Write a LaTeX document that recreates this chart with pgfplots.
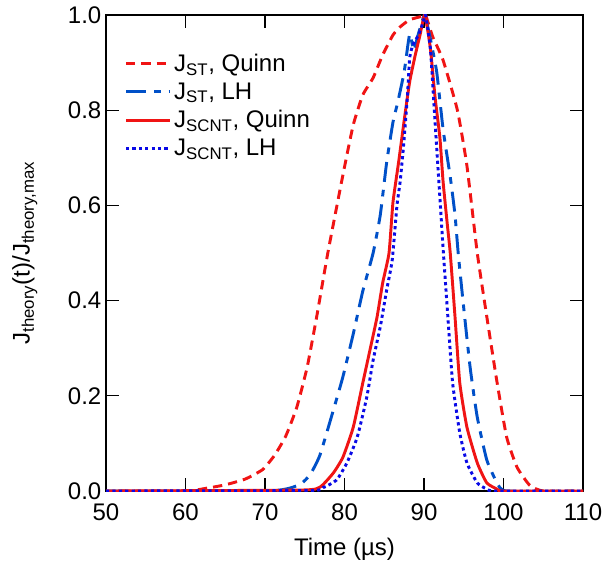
\documentclass[border=0pt]{standalone}
\usepackage{fontspec}
\setmainfont{Liberation Sans}
\usepackage{pgfplots}
\pgfplotsset{compat=1.18}
\definecolor{cred}{RGB}{240,20,20}
\definecolor{cblueA}{RGB}{0,80,200}
\definecolor{cblueB}{RGB}{10,10,230}
\newcommand{\bigf}{\fontsize{18}{21}\selectfont}
\begin{document}
\begin{tikzpicture}
\begin{axis}[
  scale only axis,
  width=357.75pt, height=357pt,
  xmin=50, xmax=110, ymin=0, ymax=1,
  xtick={50,60,...,110},
  ytick={0,0.2,0.4,0.6,0.8,1.0},
  /pgf/number format/assume math mode=true,
  yticklabel style={/pgf/number format/.cd, fixed, fixed zerofill, precision=1},
  xticklabel style={yshift=-6pt},
  tick label style={font=\bigf},
  tick align=inside,
  tick pos=both,
  major tick length=10pt,
  every tick/.style={black, line width=1pt},
  axis line style={line width=1.2pt},
  xlabel={Time (µs)},
  ylabel={J\textsubscript{theory}(t)/J\textsubscript{theory,max}},
  label style={font=\bigf},
  xlabel style={at={(axis description cs:0.5,-0.122)}, anchor=center},
  ylabel style={at={(axis description cs:-0.17,0.5)}, anchor=center},
  legend style={at={(axis description cs:0.03,0.93)}, anchor=north west,
    draw=none, fill=none, font=\bigf, row sep=3pt,
    /tikz/every even column/.append style={column sep=0pt}},
  legend cell align=left,
  legend image code/.code={\draw[#1] (0pt,0pt) -- (33pt,0pt);},
  every axis plot/.append style={line join=round},
]
\addplot[cred, line width=2.2pt, dash pattern=on 7pt off 4.5pt, smooth, tension=0.3] coordinates {
(50,0) (60,0) (62.7,0.006) (65,0.013) (67.5,0.025) (69.7,0.045) (71.2,0.075) (72.6,0.115) (74.0,0.176)
(75.3,0.26) (76.5,0.366) (77.9,0.5) (79.8,0.664) (81.1,0.769) (82.3,0.832)
(83.6,0.868) (84.8,0.916) (86.1,0.958) (87.0,0.975) (88.2,0.99) (89.9,0.998)
(90.2,1.0) (91.1,0.954) (92.4,0.905) (94.2,0.8) (95.4,0.683) (96.7,0.5)
(97.9,0.366) (99.2,0.227) (100.4,0.113) (101.7,0.05) (103.3,0.012) (105,0) (110,0)
};
\addlegendentry{J\textsubscript{ST}, Quinn}
\addplot[cblueA, line width=2.2pt, dash pattern=on 15pt off 6pt on 5pt off 6pt, smooth, tension=0.3] coordinates {
(50,0) (70,0) (73.1,0.006) (74.6,0.016) (75.7,0.035) (76.9,0.075) (78.6,0.17) (79.8,0.24)
(81.1,0.33) (82.3,0.42) (83.6,0.5) (84.5,0.58) (85.3,0.69) (86.1,0.775)
(86.7,0.817) (87.5,0.88) (88.2,0.96) (88.7,0.925) (89.2,0.955) (89.7,0.983)
(90.1,1.0) (90.8,0.95) (91.6,0.88) (92.4,0.76) (93.3,0.66) (93.9,0.58)
(94.3,0.5) (94.9,0.40) (95.8,0.26) (96.7,0.155) (97.9,0.065) (99.2,0.017)
(100.4,0) (110,0)
};
\addlegendentry{J\textsubscript{ST}, LH}
\addplot[cred, line width=2.2pt, smooth, tension=0.3] coordinates {
(50,0) (74.4,0.002) (76.9,0.008) (78.6,0.038) (79.8,0.071) (81.1,0.134)
(82.3,0.227) (83.2,0.296) (84.1,0.366) (84.8,0.437) (85.6,0.5) (86.1,0.607)
(86.8,0.69) (87.6,0.79) (88.2,0.86) (88.9,0.916) (89.5,0.958) (90.1,1.0)
(90.8,0.93) (91.4,0.826) (92.0,0.742) (92.4,0.65) (92.9,0.565) (93.3,0.5)
(93.9,0.366) (94.5,0.227) (95.4,0.134) (96.7,0.059) (97.9,0.017) (99.2,0.004)
(100,0) (110,0)
};
\addlegendentry{J\textsubscript{SCNT}, Quinn}
\addplot[cblueB, line width=2.2pt, dash pattern=on 2.4pt off 2.4pt, smooth, tension=0.3] coordinates {
(50,0) (75.5,0.001) (77.3,0.007) (79.0,0.023) (80.3,0.059) (81.6,0.113) (82.8,0.197)
(83.6,0.275) (84.5,0.345) (85.3,0.422) (86.0,0.485) (86.6,0.6) (87.0,0.65)
(87.4,0.72) (87.9,0.826) (88.2,0.91) (88.6,0.937) (89.3,0.958) (89.9,0.985)
(90.2,1.0) (90.8,0.93) (91.2,0.826) (91.6,0.72) (92.0,0.616) (92.4,0.51)
(93.0,0.366) (93.6,0.227) (94.5,0.122) (95.4,0.059) (96.7,0.017) (97.9,0.004)
(99,0) (110,0)
};
\addlegendentry{J\textsubscript{SCNT}, LH}
\end{axis}
\pgfresetboundingbox
\path ([shift={(-79.5pt,-57pt)}]current axis.south west) rectangle ([shift={(15pt,11.25pt)}]current axis.north east);
\end{tikzpicture}
\end{document}
